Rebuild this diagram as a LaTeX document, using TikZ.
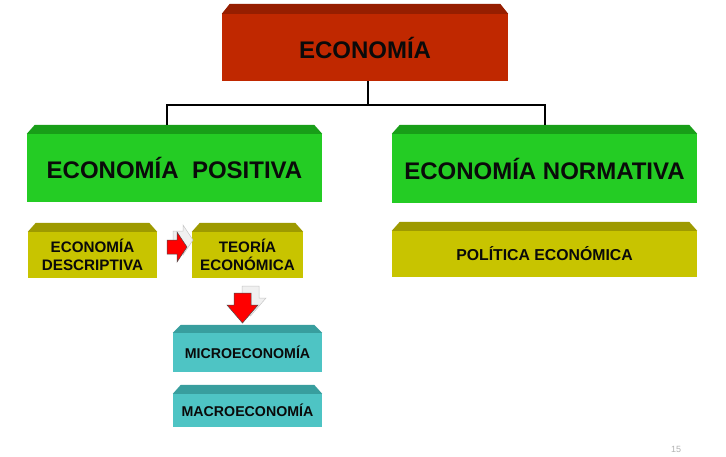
\documentclass[tikz,border=0pt]{standalone}
\usepackage{fontspec}
\setmainfont{Liberation Sans}
\definecolor{redF}{RGB}{192,40,0}
\definecolor{redT}{RGB}{150,30,0}
\definecolor{grnF}{RGB}{36,204,36}
\definecolor{grnT}{RGB}{24,158,24}
\definecolor{oliF}{RGB}{200,196,0}
\definecolor{oliT}{RGB}{158,154,0}
\definecolor{tealF}{RGB}{78,196,196}
\definecolor{tealT}{RGB}{56,158,158}
\definecolor{txt}{RGB}{10,10,10}
\tikzset{
  tdbox/.style={fill=#1, draw=none, inner sep=0pt, align=center, text=txt, font=\bfseries},
  link/.style={draw=black, line width=1.6pt},
  blockarrow/.style={fill=red, draw=black!70, line width=0.5pt},
  shadowarrow/.style={fill=gray!12, draw=gray!45, line width=0.5pt}
}
\begin{document}
\begin{tikzpicture}[x=1pt,y=-1pt]
\useasboundingbox[fill=white] (0,0) rectangle (726,456);
% nodes (front faces)
\node[tdbox=redF, minimum width=286pt, minimum height=67pt, font=\bfseries\fontsize{24}{27}\selectfont] (eco) at (365,47.5) {ECONOMÍA};
\node[tdbox=grnF, minimum width=295pt, minimum height=68pt, font=\bfseries\fontsize{24}{27}\selectfont] (pos) at (174.5,168) {ECONOMÍA\ \ POSITIVA};
\node[tdbox=grnF, minimum width=305pt, minimum height=69pt, font=\bfseries\fontsize{24}{27}\selectfont] (norm) at (544.5,168.5) {ECONOMÍA NORMATIVA};
\node[tdbox=oliF, minimum width=129pt, minimum height=46pt, font=\bfseries\fontsize{15.2}{17.5}\selectfont] (desc) at (92.5,255) {ECONOMÍA\\DESCRIPTIVA};
\node[tdbox=oliF, minimum width=111pt, minimum height=46pt, font=\bfseries\fontsize{15.2}{17.5}\selectfont] (teo) at (247.5,255) {TEORÍA\\ECONÓMICA};
\node[tdbox=oliF, minimum width=305pt, minimum height=46pt, font=\bfseries\fontsize{15.8}{18}\selectfont] (pol) at (544.5,254) {POLÍTICA ECONÓMICA};
\node[tdbox=tealF, minimum width=149pt, minimum height=39pt, font=\bfseries\fontsize{14.2}{16}\selectfont] (micro) at (247.5,352.5) {MICROECONOMÍA};
\node[tdbox=tealF, minimum width=149pt, minimum height=33pt, font=\bfseries\fontsize{14.2}{16}\selectfont] (macro) at (247.5,410.5) {MACROECONOMÍA};
% top bevel faces
\foreach \n/\c/\d in {eco/redT/10, pos/grnT/9, norm/grnT/9, desc/oliT/9, teo/oliT/9, pol/oliT/9, micro/tealT/8, macro/tealT/9}{
  \fill[\c] (\n.north west) -- ([xshift=8pt,yshift=\d pt]\n.north west) -- ([xshift=-8pt,yshift=\d pt]\n.north east) -- (\n.north east) -- cycle;
}
% connectors
\coordinate (j) at (368,105);
\coordinate (jl) at (167,105);
\coordinate (jr) at (545,105);
\draw[link] (eco.south -| j) -- (j);
\draw[link] ([yshift=9pt]pos.north -| jl) -- (jl) -- (jr) -- ([yshift=9pt]norm.north -| jr);
% right block arrow with shadow
\draw[shadowarrow] (173,231) -- (183,231) -- (183,225) -- (193,240) -- (183,255) -- (183,246) -- (173,246) -- cycle;
\draw[blockarrow] (167,240) -- (177,240) -- (177,232) -- (187,247) -- (177,262) -- (177,254) -- (167,254) -- cycle;
% down block arrow with shadow
\draw[shadowarrow] (242,286) -- (259,286) -- (259,298) -- (266,298) -- (250.5,316) -- (235,298) -- (242,298) -- cycle;
\draw[blockarrow] (234,293) -- (251,293) -- (251,305) -- (258,305) -- (242.5,323) -- (227,305) -- (234,305) -- cycle;
% page number
\node[text=gray!60, font=\fontsize{9}{10}\selectfont, inner sep=1pt] (pg) at (676,449) {15};
\end{tikzpicture}
\end{document}
